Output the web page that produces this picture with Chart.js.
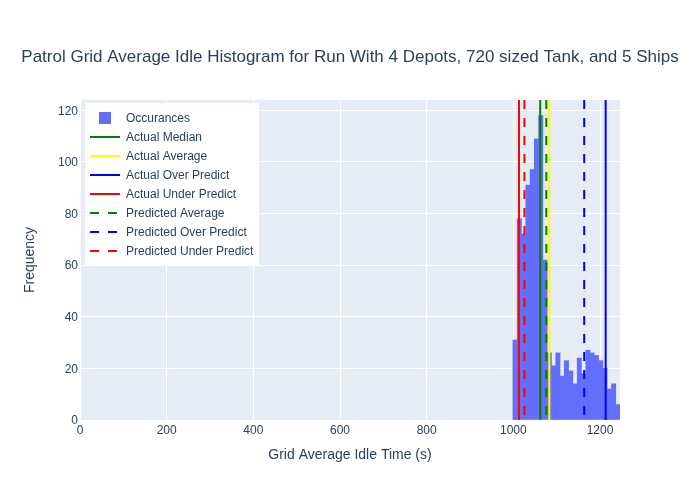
<!DOCTYPE html>
<html><head><meta charset="utf-8">
<script src="https://cdn.jsdelivr.net/npm/chart.js@4.4.1/dist/chart.umd.min.js"></script>
<style>html,body{margin:0;padding:0;background:#fff}#c{display:block}</style>
</head><body>
<canvas id="c" width="700" height="500"></canvas>
<script>
// ---------- data ----------
const chartTitle = 'Patrol Grid Average Idle Histogram for Run With 4 Depots, 720 sized Tank, and 5 Ships';
const xTitle = 'Grid Average Idle Time (s)';
const yTitle = 'Frequency';
const histName = 'Occurances';
const binCenters = [1003.9, 1013.8, 1023.7, 1033.6, 1043.5, 1053.3, 1063.2, 1073.1, 1083.0, 1092.9, 1102.8, 1112.7, 1122.6, 1132.4, 1142.3, 1152.2, 1162.1, 1172.0, 1181.9, 1191.8, 1201.7, 1211.5, 1221.4, 1231.3, 1241.2];
const binCounts  = [31, 78, 72, 91, 97, 109, 118, 62, 26, 21, 26, 17, 23, 19, 14, 24, 18, 27, 26, 25, 23, 20, 12, 14, 6];
const lineNames  = ['Actual Median', 'Actual Average', 'Actual Over Predict', 'Actual Under Predict', 'Predicted Average', 'Predicted Over Predict', 'Predicted Under Predict'];
const lineValues = [1062, 1083, 1213, 1013, 1076, 1163.5, 1025.5];
const xTickValues = [0, 200, 400, 600, 800, 1000, 1200];
const yTickValues = [0, 20, 40, 60, 80, 100, 120];
const xMax = 1246.1;
const yMax = 124;

// ---------- styles ----------
const lineColors = ['#008000', '#ffff00', '#0000ff', '#ff0000', '#008000', '#0000ff', '#ff0000'];
const lineDashed = [false, false, false, false, true, true, true];
const barColor = '#636efa';
const textColor = '#2a3f5f';
const FONT = '"Liberation Sans", Arial, sans-serif';

const datasets = [{
  type: 'bar',
  label: histName,
  data: binCenters.map((x, i) => ({x: x, y: binCounts[i]})),
  backgroundColor: barColor,
  borderWidth: 0,
  barPercentage: 1,
  categoryPercentage: 1,
  grouped: false,
  order: 100
}];
lineNames.forEach((name, i) => {
  datasets.push({
    type: 'line',
    label: name,
    data: [{x: lineValues[i], y: yMax}, {x: lineValues[i], y: 0}],
    borderColor: lineColors[i],
    backgroundColor: lineColors[i],
    borderWidth: 2,
    borderDash: lineDashed[i] ? [9, 9] : [],
    pointRadius: 0,
    fill: false,
    tension: 0,
    order: 50 - i
  });
});

const bgPlugin = {
  id: 'plotBg',
  beforeDraw(chart) {
    const {ctx, chartArea: a} = chart;
    ctx.save();
    ctx.fillStyle = '#E5ECF6';
    ctx.fillRect(a.left, a.top, a.right - a.left, a.bottom - a.top);
    ctx.restore();
  },
  afterDraw(chart) {
    const ctx = chart.ctx;
    ctx.save();
    // title
    ctx.fillStyle = textColor;
    ctx.font = '17px ' + FONT;
    ctx.textAlign = 'center';
    ctx.textBaseline = 'middle';
    ctx.fillText(chartTitle, 350, 57);
    // legend
    const lx = 85, ly = 103, lw = 174, lh = 162;
    ctx.fillStyle = '#ffffff';
    ctx.fillRect(lx, ly, lw, lh);
    ctx.font = '12px ' + FONT;
    ctx.textAlign = 'left';
    chart.data.datasets.forEach((ds, i) => {
      const cy = 118 + i * 19;
      if (ds.type === 'bar') {
        ctx.fillStyle = ds.backgroundColor;
        ctx.fillRect(99, cy - 6, 12, 12);
      } else {
        ctx.strokeStyle = ds.borderColor;
        ctx.lineWidth = 2;
        ctx.setLineDash(ds.borderDash);
        ctx.beginPath();
        ctx.moveTo(90, cy);
        ctx.lineTo(120, cy);
        ctx.stroke();
        ctx.setLineDash([]);
      }
      ctx.fillStyle = textColor;
      ctx.fillText(ds.label, 126, cy + 0.5);
    });
    ctx.restore();
  }
};

new Chart(document.getElementById('c'), {
  data: {datasets: datasets},
  plugins: [bgPlugin],
  options: {
    responsive: false,
    devicePixelRatio: 1,
    animation: false,
    layout: {padding: {top: 100, right: 80, left: 0, bottom: 0}},
    plugins: {legend: {display: false}, title: {display: false}, tooltip: {enabled: false}},
    scales: {
      x: {
        type: 'linear', position: 'bottom', min: 0, max: xMax, offset: false,
        afterFit(s) { s.height = 80; },
        afterBuildTicks(s) { s.ticks = xTickValues.map(v => ({value: v})); },
        grid: {color: '#ffffff', lineWidth: 1, drawTicks: false, offset: false},
        border: {display: false},
        ticks: {color: textColor, font: {family: FONT, size: 12}, padding: 3, maxRotation: 0,
                callback: v => String(v)},
        title: {display: true, text: xTitle, color: textColor, font: {family: FONT, size: 14}, padding: {top: 0, bottom: 36.6}}
      },
      y: {
        type: 'linear', position: 'left', min: 0, max: yMax,
        afterFit(s) { s.width = 80; },
        afterBuildTicks(s) { s.ticks = yTickValues.map(v => ({value: v})); },
        grid: {color: '#ffffff', lineWidth: 1, drawTicks: false},
        border: {display: false},
        ticks: {color: textColor, font: {family: FONT, size: 12}, padding: 2, labelOffset: 1, callback: v => String(v)},
        title: {display: true, text: yTitle, color: textColor, font: {family: FONT, size: 14}, padding: {top: 21.6, bottom: 0}}
      }
    }
  }
});
</script>
</body></html>
